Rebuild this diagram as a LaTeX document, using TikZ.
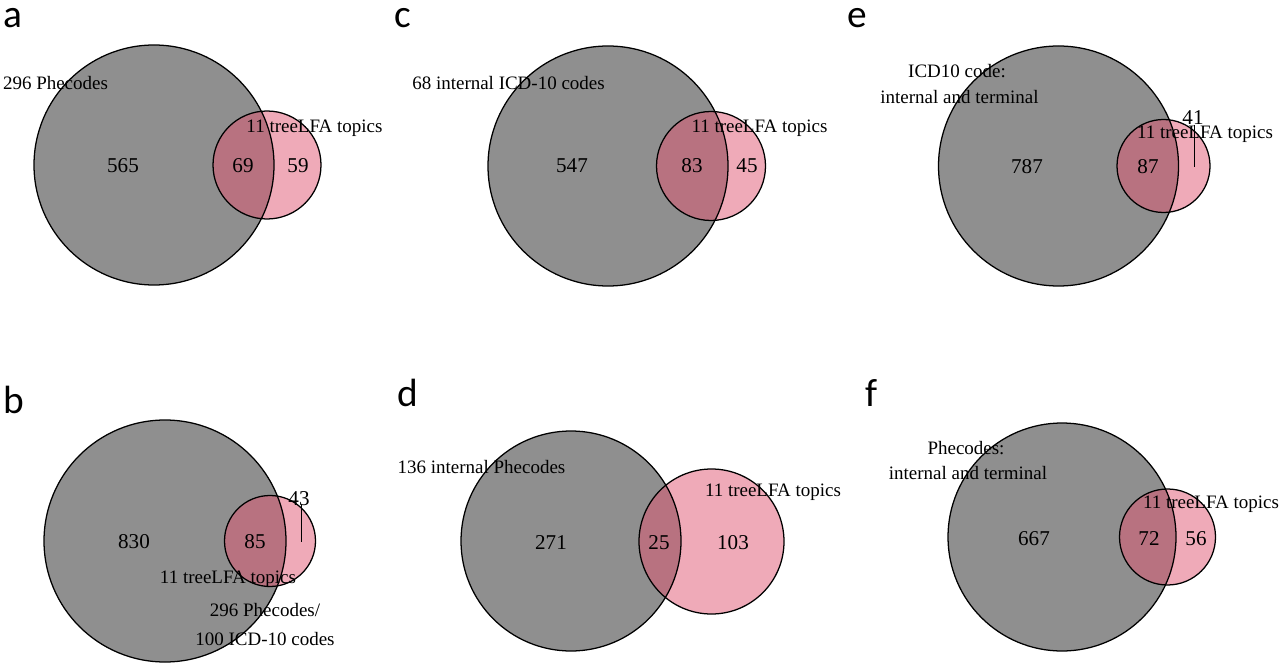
\documentclass[tikz,border=0pt]{standalone}
\usepackage{fontspec}
\setmainfont{Liberation Serif}
\newfontfamily\panelfont{Carlito}
\usetikzlibrary{calc}
\definecolor{setgray}{RGB}{143,143,143}
\definecolor{topicpink}{RGB}{225,87,114}

\tikzset{
  bigset/.style={fill=setgray},
  topicset/.style={fill=topicpink, fill opacity=0.5},
  rim/.style={draw=black, line width=0.9pt},
  count/.style={font=\fontsize{15}{18}\selectfont, inner sep=0pt, text height=0.35cm, text depth=0pt},
  setname/.style={font=\fontsize{13.5}{16}\selectfont, inner sep=0pt, text height=0.31cm, text depth=0pt},
  panel/.style={font=\panelfont\fontsize{28}{32}\selectfont, inner sep=0pt, anchor=base west},
  leader/.style={line width=0.5pt},
}

\begin{document}
\begin{tikzpicture}[x=0.025cm, y=-0.025cm]

\useasboundingbox (0,0) rectangle (1280,668);
\fill[white] (0,0) rectangle (1280,668);

% ==================== TOP ROW ====================

% Panel a
\node[panel] (a) at (3,28) {a};
\fill[bigset] (154,165) circle (120);
\fill[topicset] (267,165) circle (54);
\draw[rim] (154,165) circle (120);
\draw[rim] (267,165) circle (54);
\node[count] (a-only) at (123,166) {565};
\node[count] (a-both) at (243,166) {69};
\node[count] (a-topic) at (298,166) {59};
\node[setname] (a-name) at (55.5,83) {296 Phecodes};
\node[setname] (a-tname) at (314.5,126) {11 treeLFA topics};

% Panel c
\node[panel] (c) at (394,28) {c};
\fill[bigset] (608,166) circle (120);
\fill[topicset] (711,166) circle (54.5);
\draw[rim] (608,166) circle (120);
\draw[rim] (711,166) circle (54.5);
\node[count] (c-only) at (572,166) {547};
\node[count] (c-both) at (692,166) {83};
\node[count] (c-topic) at (747,166) {45};
\node[setname] (c-name) at (508.5,83) {68 internal ICD-10 codes};
\node[setname] (c-tname) at (759.5,126) {11 treeLFA topics};

% Panel e
\node[panel] (e) at (847,28) {e};
\fill[bigset] (1058.5,166) circle (120);
\fill[topicset] (1163.5,166) circle (46.5);
\draw[rim] (1058.5,166) circle (120);
\draw[rim] (1163.5,166) circle (46.5);
\node[count] (e-only) at (1027,167) {787};
\node[count] (e-both) at (1148,167) {87};
\node[count] (e-topic) at (1193,118) {41};
\coordinate (e-tip) at (1194,167);
\draw[leader] (e-topic.south -| e-tip) -- (e-tip);
\node[setname] (e-tname) at (1205,132) {11 treeLFA topics};
\node[setname] (e-name1) at (957,71) {ICD10 code:};
\node[setname] (e-name2) at (959.5,97) {internal and terminal};

% ==================== BOTTOM ROW ====================

% Panel b
\node[panel] (b) at (3,413) {b};
\fill[bigset] (165,541) circle (121);
\fill[topicset] (270,541) circle (45.5);
\draw[rim] (165,541) circle (121);
\draw[rim] (270,541) circle (45.5);
\node[count] (b-only) at (134,541) {830};
\node[count] (b-both) at (255,541) {85};
\node[count] (b-topic) at (299,498) {43};
\coordinate (b-tip) at (301,542);
\draw[leader] (b-topic.south -| b-tip) -- (b-tip);
\node[setname] (b-tname) at (228,577) {11 treeLFA topics};
\node[setname] (b-name1) at (265,610) {296 Phecodes/};
\node[setname] (b-name2) at (265,639) {100 ICD-10 codes};

% Panel d
\node[panel] (d) at (397,406) {d};
\fill[bigset] (571,541) circle (110);
\fill[topicset] (711.5,541.5) circle (72.5);
\draw[rim] (571,541) circle (110);
\draw[rim] (711.5,541.5) circle (72.5);
\node[count] (d-only) at (551,542) {271};
\node[count] (d-both) at (659,542) {25};
\node[count] (d-topic) at (733,542) {103};
\node[setname] (d-name) at (481.5,467) {136 internal Phecodes};
\node[setname] (d-tname) at (773,490) {11 treeLFA topics};

% Panel f
\node[panel] (f) at (865,406) {f};
\fill[bigset] (1062,537) circle (114);
\fill[topicset] (1167.5,537) circle (48);
\draw[rim] (1062,537) circle (114);
\draw[rim] (1167.5,537) circle (48);
\node[count] (f-only) at (1034,538) {667};
\node[count] (f-both) at (1149,538) {72};
\node[count] (f-topic) at (1196,538) {56};
\node[setname] (f-name1) at (966,448) {Phecodes:};
\node[setname] (f-name2) at (968,473) {internal and terminal};
\node[setname] (f-tname) at (1211,502) {11 treeLFA topics};

\end{tikzpicture}
\end{document}
